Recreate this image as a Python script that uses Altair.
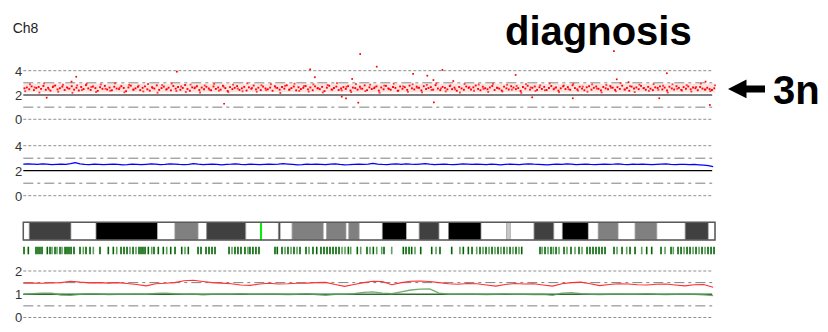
import altair as alt
import pandas as pd

# ---------------- data ----------------
CHROM_LEN = 146.4          # chromosome 8 length, Mb
CENTROMERE = 50.3          # Mb

# raw SNP copy-number estimates, probe set A (one every 0.5 Mb)
snp_cn = [
    2.55,2.62,2.47,2.71,2.40,2.58,2.66,2.50,2.74,2.43,2.59,2.36,2.65,2.78,2.46,2.56,2.69,2.41,2.63,2.52,
    2.72,2.44,2.60,2.37,2.66,2.49,2.81,2.54,2.42,2.70,2.57,2.34,2.64,2.51,2.75,2.45,2.61,2.39,2.68,2.53,
    2.48,2.73,2.58,2.31,2.62,2.77,2.44,2.55,2.67,2.40,2.59,2.71,2.47,2.36,2.64,2.53,2.79,2.42,2.57,2.69,
    2.45,2.60,2.38,2.74,2.52,2.66,2.43,2.58,2.82,2.49,2.35,2.63,2.56,2.72,2.41,2.61,2.47,2.68,2.54,2.39,
    2.70,2.50,2.62,2.44,2.76,2.57,2.33,2.65,2.48,2.59,2.73,2.42,2.55,2.67,2.37,2.63,2.51,2.78,2.46,2.60,
    2.40,2.69,2.54,2.47,2.61,2.35,2.72,2.58,2.44,2.66,2.52,2.80,2.43,2.57,2.70,2.38,2.64,2.49,2.59,2.74,
    2.46,2.62,2.39,2.71,2.55,2.48,2.67,2.32,2.60,2.76,2.45,2.58,2.69,2.41,2.53,2.65,2.50,2.73,2.37,2.61,
    2.57,2.44,2.68,2.52,2.79,2.40,2.63,2.49,2.56,2.71,2.36,2.62,2.47,2.75,2.54,2.43,2.66,2.58,2.34,2.70,
    2.51,2.64,2.42,2.77,2.55,2.46,2.69,2.60,2.38,2.72,2.49,2.57,2.65,2.44,2.81,2.53,2.40,2.67,2.59,2.46,
    2.73,2.48,2.61,2.35,2.66,2.54,2.43,2.70,2.58,2.45,2.63,2.78,2.50,2.39,2.68,2.56,2.47,2.62,2.74,2.41,
    2.60,2.52,2.37,2.69,2.55,2.45,2.72,2.61,2.48,2.57,2.33,2.66,2.53,2.76,2.44,2.59,2.70,2.42,2.64,2.50,
    2.67,2.41,2.58,2.74,2.47,2.62,2.36,2.55,2.71,2.49,2.65,2.43,2.80,2.57,2.46,2.68,2.52,2.39,2.63,2.72,
    2.44,2.59,2.70,2.51,2.38,2.66,2.55,2.47,2.73,2.60,2.42,2.64,2.50,2.77,2.45,2.58,2.35,2.69,2.53,2.62,
    2.48,2.75,2.56,2.43,2.67,2.52,2.40,2.63,2.58,2.71,2.46,2.61,2.37,2.68,2.54,2.45,2.72,2.59,2.42,2.65,
    2.51,2.70,2.47,2.62,2.56,2.39,2.66,2.53,2.44,2.60,2.49,2.41,2.55,
]
# raw SNP copy-number estimates, probe set B (one every 1 Mb, offset 0.4 Mb)
snp_cn_b = [
    2.31,2.88,2.62,2.20,2.95,2.47,2.73,2.26,2.84,2.55,
    2.18,2.79,2.41,2.92,2.66,2.24,2.87,2.51,2.35,2.97,
    2.60,2.22,2.83,2.45,2.76,2.29,2.90,2.57,2.19,2.81,
    2.48,2.94,2.33,2.70,2.25,2.86,2.63,2.21,2.78,2.43,
    2.91,2.36,2.68,2.23,2.85,2.53,2.30,2.96,2.58,2.27,
    2.80,2.40,2.89,2.61,2.17,2.75,2.46,2.93,2.34,2.72,
    2.28,2.87,2.56,2.21,2.82,2.44,2.98,2.38,2.67,2.24,
    2.90,2.52,2.32,2.85,2.64,2.19,2.77,2.49,2.94,2.37,
    2.71,2.26,2.88,2.59,2.22,2.83,2.42,2.96,2.54,2.30,
    2.79,2.47,2.20,2.91,2.65,2.35,2.86,2.50,2.25,2.93,
    2.58,2.29,2.84,2.44,2.74,2.18,2.89,2.62,2.33,2.80,
    2.39,2.95,2.55,2.23,2.78,2.48,2.92,2.36,2.69,2.27,
    2.87,2.53,2.21,2.82,2.60,2.31,2.97,2.45,2.73,2.24,
    2.85,2.57,2.34,2.90,2.43,2.76,2.20,2.88,2.51,2.37,
    2.81,2.28,2.66,2.94,2.46,2.32,2.79,
]
# outlying SNP calls (Mb, copy number)
outlier_pos = [4.95, 10.2, 11.2, 32.5, 42.5, 60.7, 61.7, 67.4, 68.3, 69.6, 70.9, 71.3, 74.8,
               82.5, 85.5, 86.8, 86.9, 88.7, 91.0, 104.2, 107.7, 116.3, 125.0, 125.6, 128.1,
               134.6, 136.2, 144.4, 145.3]
outlier_cn = [1.78, 3.10, 3.50, 3.92, 1.28, 4.11, 3.46, 1.86, 1.73, 3.32, 1.37, 5.37, 4.33,
              3.73, 3.59, 3.23, 1.40, 4.06, 3.15, 3.65, 1.81, 1.73, 5.62, 3.29, 3.05,
              1.73, 3.79, 3.10, 1.18]
# envelope of the dense SNP cloud
cloud_pos = [0, 12, 24, 36, 48, 60, 72, 84, 96, 108, 120, 132, 146.4]
cloud_lo = [2.22, 2.20, 2.23, 2.21, 2.24, 2.22, 2.20, 2.23, 2.21, 2.23, 2.20, 2.22, 2.21]
cloud_hi = [2.92, 2.94, 2.91, 2.93, 2.92, 2.95, 2.93, 2.92, 2.94, 2.91, 2.93, 2.92, 2.94]

# smoothed copy number (one every 1 Mb)
smooth_cn = [
    2.52,2.55,2.53,2.50,2.54,2.52,2.49,2.51,2.53,2.50,2.56,2.64,2.55,2.51,2.49,2.52,2.50,2.48,2.51,2.53,
    2.50,2.47,2.49,2.52,2.50,2.48,2.51,2.54,2.52,2.49,2.51,2.55,2.53,2.50,2.48,2.51,2.57,2.52,2.49,2.51,
    2.53,2.50,2.47,2.50,2.52,2.55,2.51,2.49,2.52,2.50,2.48,2.51,2.53,2.50,2.52,2.56,2.53,2.50,2.47,2.49,
    2.52,2.50,2.53,2.51,2.49,2.52,2.55,2.50,2.46,2.48,2.51,2.53,2.50,2.52,2.58,2.53,2.50,2.49,2.52,2.54,
    2.51,2.55,2.52,2.50,2.53,2.56,2.52,2.49,2.51,2.53,2.50,2.48,2.51,2.54,2.52,2.50,2.53,2.51,2.49,2.52,
    2.50,2.47,2.50,2.53,2.51,2.49,2.52,2.55,2.52,2.50,2.48,2.46,2.50,2.53,2.51,2.54,2.52,2.49,2.51,2.53,
    2.50,2.48,2.51,2.53,2.50,2.52,2.55,2.51,2.49,2.52,2.50,2.53,2.51,2.48,2.50,2.52,2.54,2.51,2.49,2.51,
    2.50,2.48,2.50,2.47,2.44,2.40,2.33,
]

# allele-specific copy number (one every 2 Mb)
allele_major = [
    1.47,1.48,1.47,1.49,1.50,1.56,1.52,1.49,1.50,1.48,1.50,1.46,1.42,1.36,1.45,1.47,1.50,1.58,1.60,1.55,
    1.50,1.48,1.45,1.40,1.38,1.44,1.47,1.44,1.45,1.47,1.48,1.50,1.51,1.42,1.34,1.42,1.50,1.56,1.55,1.41,
    1.50,1.56,1.57,1.55,1.50,1.45,1.43,1.46,1.45,1.40,1.35,1.42,1.46,1.44,1.45,1.40,1.35,1.45,1.50,1.52,
    1.45,1.37,1.42,1.45,1.44,1.41,1.40,1.43,1.44,1.40,1.36,1.41,1.42,1.30,
]
allele_minor = [
    1.00,1.02,1.05,1.04,0.97,0.95,1.00,1.02,1.01,0.99,1.00,1.00,1.01,1.00,1.03,1.05,1.02,1.00,1.01,0.98,
    1.00,1.01,1.00,1.02,1.00,1.00,1.01,1.00,0.99,1.00,1.02,0.99,0.96,1.00,1.00,1.02,1.08,1.10,1.05,1.02,
    1.10,1.18,1.22,1.23,1.05,1.00,1.00,1.01,1.00,0.99,1.00,1.01,1.00,1.00,0.99,1.00,0.95,1.05,1.07,1.02,
    1.00,0.99,1.00,1.01,1.00,1.00,1.02,1.00,0.99,1.00,1.01,1.00,0.98,0.94,
]

# cytoband ideogram
band_start = [0, 1.27, 10.1, 15.4, 28.4, 32.1, 37.0, 38.8, 47.1, 54.0, 54.4, 56.9, 63.5, 64.2, 68.3,
              68.9, 71.1, 76.0, 81.1, 83.8, 88.0, 90.0, 96.9, 102.3, 103.1, 108.1, 112.3, 114.1,
              119.6, 121.7, 125.9, 129.5, 134.1, 140.1, 145.0]
band_end = [1.27, 10.1, 15.4, 28.4, 32.1, 37.0, 38.8, 47.1, 54.0, 54.4, 56.9, 63.5, 64.2, 68.3, 68.9,
            71.1, 76.0, 81.1, 83.8, 88.0, 90.0, 96.9, 102.3, 103.1, 108.1, 112.3, 114.1, 119.6,
            121.7, 125.9, 129.5, 134.1, 140.1, 145.0, 146.4]
band_stain = ["gneg", "gpos75", "gneg", "gpos100", "gneg", "gpos50", "gneg", "gpos75", "gneg", "gpos75",
              "gneg", "gpos50", "gneg", "gpos50", "gneg", "gpos50", "gneg", "gpos100", "gneg", "gpos75",
              "gneg", "gpos100", "gneg", "gpos25", "gneg", "gpos75", "gneg", "gpos100", "gneg", "gpos50",
              "gneg", "gpos50", "gneg", "gpos75", "gneg"]
STAIN_COLOR = {"gneg": "#ffffff", "gpos25": "#c8c8c8", "gpos50": "#808080",
               "gpos75": "#404040", "gpos100": "#000000"}

# probe coverage track (Mb)
probe_dark = [0.15,1.06,2.69,3.11,3.53,3.96,5.08,5.65,6.71,7.77,8.84,9.25,9.67,10.1,10.73,12.0,13.27,14.12,
              16.23,17.99,19.05,20.68,21.31,21.95,23.22,24.49,24.91,25.33,25.76,26.46,27.66,28.57,29.63,31.2,
              32.11,33.53,34.92,36.98,37.61,38.67,39.3,39.94,40.57,43.54,44.8,45.43,46.07,46.91,47.97,48.6,
              49.24,49.88,53.27,53.76,54.75,56.02,57.29,58.56,59.83,61.31,62.1,63.0,63.64,64.28,64.91,65.55,
              66.18,66.82,68.79,70.69,72.74,74.08,76.34,80.43,81.0,81.64,82.2,84.11,86.44,88.19,90.67,93.13,
              94.19,94.97,96.66,97.93,99.2,100.47,101.74,103.01,104.28,105.49,109.36,110.42,111.69,112.75,
              114.44,115.92,117.61,119.31,119.94,120.58,121.21,121.85,122.48,123.12,125.02,126.72,128.41,
              129.47,131.94,133.0,134.97,137.09,138.57,139.21,140.48,141.11,142.38,143.65,144.92,145.56,146.19]
probe_light = [6.07,7.13,8.19,12.7,14.82,19.77,22.58,23.85,27.18,30.35,34.22,44.17,47.55,55.39,56.66,57.93,
               60.47,67.45,68.09,69.29,71.41,73.38,74.8,75.86,77.97,82.9,87.35,92.42,95.96,97.3,98.57,99.84,
               101.1,102.37,103.64,104.91,109.79,111.06,112.18,113.38,115.07,116.77,118.25,125.66,127.71,
               130.89,135.82,137.57,139.84,141.75,143.02,144.29]

# reference levels per panel
cn_dotted, cn_dashdot, cn_solid, cn_ticks = [4, 0], [3, 1], [2], [4, 2, 0]
al_dotted, al_dashdot, al_solid, al_ticks = [2, 0], [1.5, 0.5], [1], [2, 1, 0]

# ---------------- layout ----------------
W, H = 812, 316
X_DOMAIN = [-3.24, 168.62]
SNP_DOM = [-16.848, 9.160]
SMOOTH_DOM = [-10.264, 15.016]
IDEO_DOM = [-4.746, 13.107]
PROBE_DOM = [-9.171, 32.408]
ALLELE_DOM = [-0.2796, 13.312]
FONT = "Liberation Sans"


def xs(field):
    return alt.X(field, type="quantitative",
                 scale=alt.Scale(domain=X_DOMAIN, nice=False, zero=False), axis=None)


def ys(field, dom):
    return alt.Y(field, type="quantitative",
                 scale=alt.Scale(domain=dom, nice=False, zero=False), axis=None)


def rules(levels, dom, color, width, dash=None):
    df = pd.DataFrame({"level": levels, "start": 0.0, "end": 145.8})
    kw = dict(color=color, strokeWidth=width)
    if dash:
        kw["strokeDash"] = dash
    return alt.Chart(df).mark_rule(**kw).encode(x=xs("start"), x2="end", y=ys("level", dom))


def tick_labels(levels, dom):
    df = pd.DataFrame({"level": levels, "pos": 0.0, "txt": [f"{v:g}" for v in levels]})
    return alt.Chart(df).mark_text(align="right", baseline="middle", dx=-1, dy=1, fontSize=13,
                                   font=FONT, color="#333333").encode(
        x=xs("pos"), y=ys("level", dom), text="txt:N")


def reference_lines(dotted, dashdot, solid, ticks, dom, solid_color):
    out = [
        rules(dotted, dom, "#8f8f8f", 1, [3, 2]),
        rules(dashdot, dom, "#7f7f7f", 1, [10, 4, 3, 4]),
        tick_labels(ticks, dom),
    ]
    if solid:
        out.append(rules(solid, dom, solid_color, 1.2))
    return out


snp_df = pd.DataFrame({"pos": [0.25 + 0.5 * i for i in range(len(snp_cn))], "cn": snp_cn})
snp_b_df = pd.DataFrame({"pos": [0.4 + i for i in range(len(snp_cn_b))], "cn": snp_cn_b})
out_df = pd.DataFrame({"pos": outlier_pos, "cn": outlier_cn})
cloud_df = pd.DataFrame({"pos": cloud_pos, "lo": cloud_lo, "hi": cloud_hi})
smooth_df = pd.DataFrame({"pos": [min(float(i), CHROM_LEN) for i in range(len(smooth_cn))], "cn": smooth_cn})
allele_pos = [min(2.0 * i, CHROM_LEN) for i in range(len(allele_major))]
major_df = pd.DataFrame({"pos": allele_pos, "cn": allele_major})
minor_df = pd.DataFrame({"pos": allele_pos, "cn": allele_minor})
band_df = pd.DataFrame({"start": band_start, "end": band_end,
                        "fill": [STAIN_COLOR[s] for s in band_stain], "lo": 0.0, "hi": 1.0})
outline_df = pd.DataFrame({"start": [0.0], "end": [CHROM_LEN], "lo": [0.0], "hi": [1.0]})
cen_df = pd.DataFrame({"pos": [CENTROMERE], "lo": [0.0], "hi": [1.0]})
probe_df = pd.DataFrame({"pos": probe_dark + probe_light,
                         "col": ["#006400"] * len(probe_dark) + ["#5fa05f"] * len(probe_light),
                         "lo": 0.0, "hi": 1.0})

layers = []
# panel 1: raw SNP copy number
layers += reference_lines(cn_dotted, cn_dashdot, cn_solid, cn_ticks, SNP_DOM, "#000000")
layers.append(alt.Chart(cloud_df).mark_area(color="#ffc0c0", opacity=0.45).encode(
    x=xs("pos"), y=ys("lo", SNP_DOM), y2="hi"))
layers.append(alt.Chart(snp_b_df).mark_square(size=3.5, color="#ff3a3a", opacity=1).encode(
    x=xs("pos"), y=ys("cn", SNP_DOM)))
layers.append(alt.Chart(snp_df).mark_square(size=3.5, color="#ff0000", opacity=1).encode(
    x=xs("pos"), y=ys("cn", SNP_DOM)))
layers.append(alt.Chart(out_df).mark_square(size=3, color="#ff0000", opacity=1).encode(
    x=xs("pos"), y=ys("cn", SNP_DOM)))

# panel 2: smoothed copy number
layers += reference_lines(cn_dotted, cn_dashdot, cn_solid, cn_ticks, SMOOTH_DOM, "#000000")
layers.append(alt.Chart(smooth_df).mark_line(color="#0000ff", strokeWidth=1.3).encode(
    x=xs("pos"), y=ys("cn", SMOOTH_DOM)))

# ideogram
layers.append(alt.Chart(band_df).mark_rect(stroke="#9a9a9a", strokeWidth=0.6).encode(
    x=xs("start"), x2="end", y=ys("lo", IDEO_DOM), y2="hi", fill=alt.Fill("fill:N", scale=None)))
layers.append(alt.Chart(cen_df).mark_rule(color="#00ee00", strokeWidth=2).encode(
    x=xs("pos"), y=ys("lo", IDEO_DOM), y2="hi"))
layers.append(alt.Chart(outline_df).mark_rect(fill=None, fillOpacity=0, stroke="#5a5a5a", strokeWidth=1.5).encode(
    x=xs("start"), x2="end", y=ys("lo", IDEO_DOM), y2="hi"))

# probe coverage
layers.append(alt.Chart(probe_df).mark_rule(strokeWidth=1.6).encode(
    x=xs("pos"), y=ys("lo", PROBE_DOM), y2="hi", color=alt.Color("col:N", scale=None)))

# panel 3: allele-specific copy number
layers += reference_lines(al_dotted, al_dashdot, [], al_ticks, ALLELE_DOM, "#000000")
layers.append(alt.Chart(major_df).mark_line(color="#ff3030", strokeWidth=1.1).encode(
    x=xs("pos"), y=ys("cn", ALLELE_DOM)))
layers.append(rules(al_solid, ALLELE_DOM, "#2f6a2f", 1.3))
layers.append(alt.Chart(minor_df).mark_line(color="#5a9e5a", strokeWidth=1.4, opacity=0.85).encode(
    x=xs("pos"), y=ys("cn", ALLELE_DOM)))

# annotations
layers.append(alt.Chart(pd.DataFrame({"t": ["Ch8"]})).mark_text(
    align="left", baseline="alphabetic", fontSize=14, font=FONT, color="#222222").encode(
    text="t:N", x=alt.value(4.7), y=alt.value(24.7)))
layers.append(alt.Chart(pd.DataFrame({"t": ["diagnosis"]})).mark_text(
    align="left", baseline="alphabetic", fontSize=40, fontWeight="bold", font=FONT, color="#000000").encode(
    text="t:N", x=alt.value(497), y=alt.value(36.5)))
ann_df = pd.DataFrame({"t": ["3n"], "level": [2.5]})
layers.append(alt.Chart(ann_df).mark_point(
    shape="M-1,0L0,-0.51L0,-0.19L1,-0.19L1,0.19L0,0.19L0,0.51Z", size=1369, filled=True,
    color="#000000", opacity=1).encode(x=alt.value(738.5), y=ys("level", SNP_DOM)))
layers.append(alt.Chart(ann_df).mark_text(
    align="left", baseline="alphabetic", dy=15, fontSize=40, fontWeight="bold", font=FONT,
    color="#000000").encode(text="t:N", x=alt.value(765), y=ys("level", SNP_DOM)))

chart = alt.layer(*layers).resolve_scale(y="independent").properties(
    width=W, height=H, padding=0, autosize=alt.AutoSizeParams(type="none")
).configure_view(stroke=None)

chart.save("out.html", embed_options={"renderer": "svg", "actions": False})
